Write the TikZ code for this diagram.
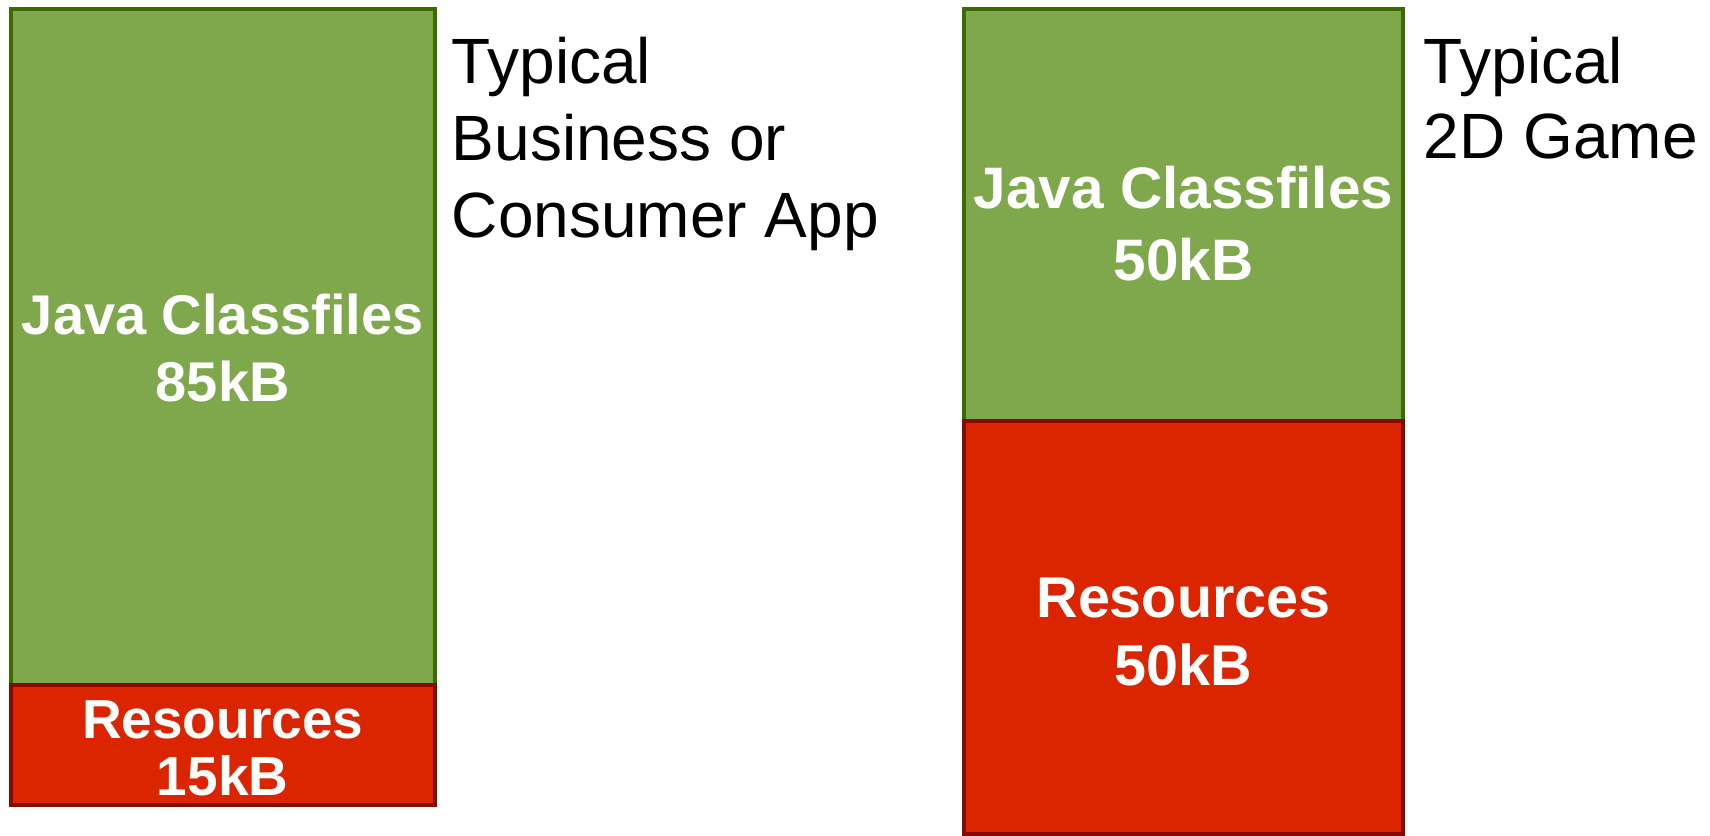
\documentclass[tikz,border=0pt]{standalone}
\usepackage{fontspec}
\setmainfont{Liberation Sans}
\definecolor{classFill}{HTML}{7FA74B}
\definecolor{classEdge}{HTML}{3C6C00}
\definecolor{resFill}{HTML}{DB2500}
\definecolor{resEdge}{HTML}{860A00}
\begin{document}
\begin{tikzpicture}[x=0.5bp,y=-0.5bp]
\tikzset{
  classbar/.style={fill=classFill,draw=classEdge,line width=2bp},
  resbar/.style={fill=resFill,draw=resEdge,line width=2bp},
  barlabel/.style={text=white,align=center,inner sep=0pt,anchor=center},
  caption/.style={text=black,align=left,inner sep=0pt,anchor=north west}
}
\useasboundingbox (0,0) rectangle (1710,836);

% business / consumer app: 85kB classes, 15kB resources
\filldraw[classbar] (10.5,8.5) rectangle (435,685);
\filldraw[resbar] (10.5,685) rectangle (435,805);
\node[barlabel,font=\bfseries\fontsize{28bp}{33.5bp}\selectfont] (appclass) at (222.7,347.5) {Java Classfiles\\85kB};
\node[barlabel,font=\bfseries\fontsize{27.5bp}{28.5bp}\selectfont] (appres) at (222.7,748) {Resources\\15kB};
\node[caption,font=\fontsize{32bp}{38.5bp}\selectfont] (appcap) at (451.5,36.5) {Typical\\Business or\\Consumer App};

% 2D game: 50kB classes, 50kB resources
\filldraw[classbar] (964,8.5) rectangle (1403,421);
\filldraw[resbar] (964,421) rectangle (1403,834);
\node[barlabel,font=\bfseries\fontsize{29.25bp}{36bp}\selectfont] (gameclass) at (1183.5,223.5) {Java Classfiles\\50kB};
\node[barlabel,font=\bfseries\fontsize{28.75bp}{34bp}\selectfont] (gameres) at (1183.5,632) {Resources\\50kB};
\node[caption,font=\fontsize{32bp}{37.5bp}\selectfont] (gamecap) at (1423.5,36.5) {Typical\\2D Game};
\end{tikzpicture}
\end{document}
